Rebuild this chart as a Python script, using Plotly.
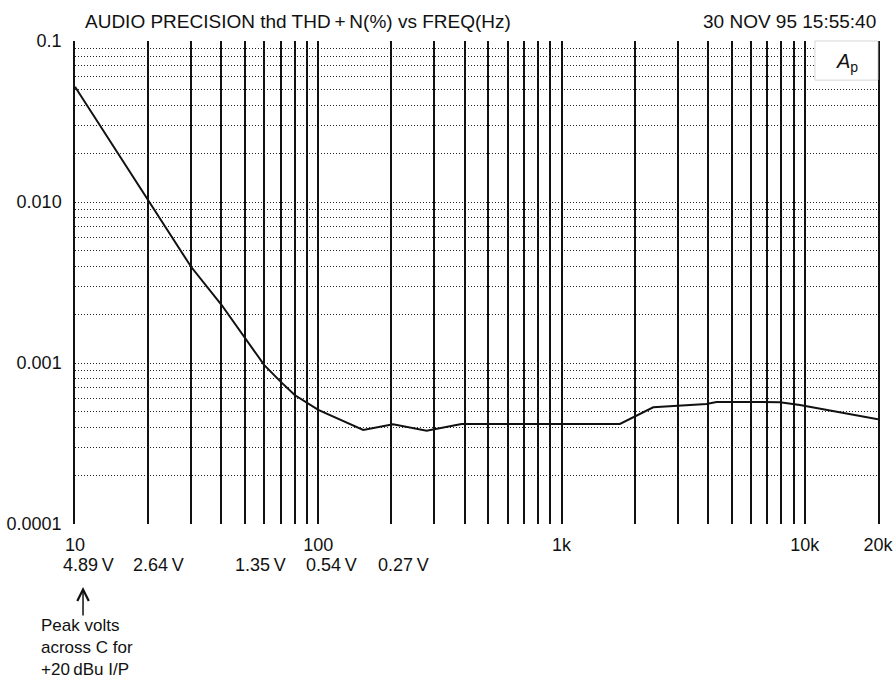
import math
import plotly.graph_objects as go

# THD+N sweep
freq_hz = [10, 20, 30, 40, 50, 60, 70, 80, 100, 153, 203, 279, 388,
           1738, 2382, 3945, 4335, 7906, 9550, 20000]
thd_pct = [0.052, 0.0102, 0.00396, 0.0023, 0.00142, 0.00097,
           0.000766, 0.000632, 0.000511, 0.000384, 0.000416, 0.00038, 0.000418,
           0.000418, 0.000531, 0.000556, 0.000573, 0.000571, 0.000548, 0.000447]

x_tick_vals = [10, 100, 1000, 10000, 20000]
x_tick_text = ["10", "100", "1k", "10k", "20k"]
y_tick_vals = [0.1, 0.01, 0.001, 0.0001]
y_tick_text = ["0.1", "0.010", "0.001", "0.0001"]

# peak capacitor voltages printed under the frequency axis
volt_labels = ["4.89\u2009V", "2.64\u2009V", "1.35\u2009V", "0.54\u2009V", "0.27\u2009V"]
volt_freqs = [11.4, 22, 58, 113, 224]

font = dict(family="Liberation Sans, Arial, sans-serif", size=18, color="#111")

fig = go.Figure()
fig.add_trace(go.Scatter(x=freq_hz, y=thd_pct, mode="lines",
                         line=dict(color="#111", width=2), showlegend=False))

fig.update_xaxes(
    type="log", range=[1, math.log10(20000)],
    tickvals=x_tick_vals, ticktext=x_tick_text, ticks="",
    ticklabelstandoff=8, automargin=False,
    showgrid=True, gridcolor="#111", gridwidth=1.5,
    minor=dict(dtick="D1", showgrid=True, gridcolor="#111", gridwidth=1.5),
    showline=False, zeroline=False,
)
fig.update_yaxes(
    type="log", range=[-4, -1],
    tickvals=y_tick_vals, ticktext=y_tick_text, ticks="",
    ticklabelstandoff=8, automargin=False,
    showgrid=True, gridcolor="#222", gridwidth=1, griddash="1px,2px",
    minor=dict(dtick="D1", showgrid=True, gridcolor="#222", gridwidth=1, griddash="1px,2px"),
    showline=True, linecolor="#111", linewidth=1.5, mirror=True, zeroline=False,
)

annotations = [
    dict(text="AUDIO PRECISION thd THD\u2009+\u2009N(%) vs FREQ(Hz)", xref="paper", yref="paper",
         x=0.01, y=1.0414, xanchor="left", yanchor="middle", showarrow=False,
         font=dict(size=19)),
    dict(text="30 NOV 95 15:55:40", xref="paper", yref="paper",
         x=1, y=1.0414, xanchor="right", yanchor="middle", showarrow=False,
         font=dict(size=19)),
    dict(text="<i>A</i><sub>p</sub>", xref="paper", yref="paper",
         x=0.962, y=0.956, xanchor="center", yanchor="middle", showarrow=False,
         font=dict(size=20)),
    dict(text="", xref="paper", yref="paper", x=0.01, y=-0.1304,
         showarrow=True, ax=0, ay=30, arrowhead=5, arrowsize=1.5,
         arrowwidth=1.5, arrowcolor="#111"),
    dict(text="Peak volts<br>across C for<br>+20\u2009dBu I/P", xref="paper", yref="paper",
         x=-0.0448, y=-0.1863, xanchor="left", yanchor="top", align="left",
         showarrow=False, font=dict(size=17)),
]
for lab, f in zip(volt_labels, volt_freqs):
    annotations.append(dict(text=lab, xref="x", yref="paper", x=math.log10(f),
                            y=-0.085, xanchor="center", yanchor="middle",
                            showarrow=False))

fig.update_layout(
    width=895, height=681, autosize=False,
    margin=dict(l=75, r=17, t=41, b=157),
    paper_bgcolor="white", plot_bgcolor="white",
    font=font,
    annotations=annotations,
    shapes=[dict(type="rect", xref="paper", yref="paper", x0=0.9215, x1=1,
                 y0=0.919, y1=1, fillcolor="white",
                 line=dict(color="#ccc", width=0.8), layer="above")],
)

# drop the browser's default body margin so the figure sits at the page corner
fig.write_html("out.html", config={"displayModeBar": False},
               post_script="document.body.style.margin='0';")
